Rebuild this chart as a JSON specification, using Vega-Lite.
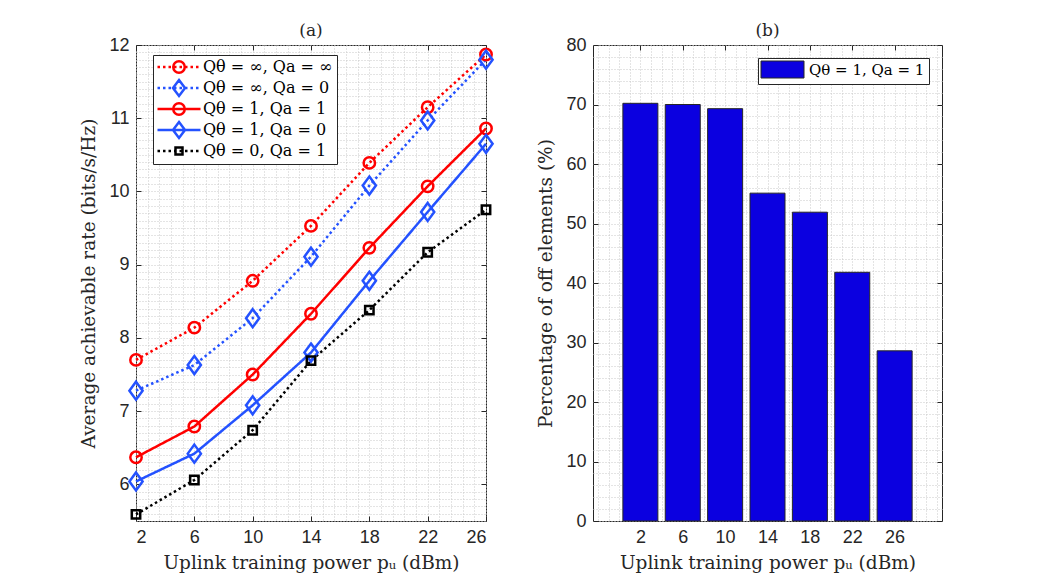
{
  "$schema": "https://vega.github.io/schema/vega-lite/v6.json",
  "padding": {"left": 79, "top": 21, "right": 5, "bottom": 5},
  "spacing": 37,
  "datasets": {
    "rates": [
      {"p": 2, "series": "Qθ = ∞, Qa = ∞", "rate": 7.70},
      {"p": 6, "series": "Qθ = ∞, Qa = ∞", "rate": 8.14},
      {"p": 10, "series": "Qθ = ∞, Qa = ∞", "rate": 8.78},
      {"p": 14, "series": "Qθ = ∞, Qa = ∞", "rate": 9.53},
      {"p": 18, "series": "Qθ = ∞, Qa = ∞", "rate": 10.39},
      {"p": 22, "series": "Qθ = ∞, Qa = ∞", "rate": 11.15},
      {"p": 26, "series": "Qθ = ∞, Qa = ∞", "rate": 11.87},
      {"p": 2, "series": "Qθ = ∞, Qa = 0", "rate": 7.28},
      {"p": 6, "series": "Qθ = ∞, Qa = 0", "rate": 7.63},
      {"p": 10, "series": "Qθ = ∞, Qa = 0", "rate": 8.27},
      {"p": 14, "series": "Qθ = ∞, Qa = 0", "rate": 9.11},
      {"p": 18, "series": "Qθ = ∞, Qa = 0", "rate": 10.08},
      {"p": 22, "series": "Qθ = ∞, Qa = 0", "rate": 10.97},
      {"p": 26, "series": "Qθ = ∞, Qa = 0", "rate": 11.80},
      {"p": 2, "series": "Qθ = 1, Qa = 1", "rate": 6.37},
      {"p": 6, "series": "Qθ = 1, Qa = 1", "rate": 6.79},
      {"p": 10, "series": "Qθ = 1, Qa = 1", "rate": 7.50},
      {"p": 14, "series": "Qθ = 1, Qa = 1", "rate": 8.33},
      {"p": 18, "series": "Qθ = 1, Qa = 1", "rate": 9.23},
      {"p": 22, "series": "Qθ = 1, Qa = 1", "rate": 10.07},
      {"p": 26, "series": "Qθ = 1, Qa = 1", "rate": 10.86},
      {"p": 2, "series": "Qθ = 1, Qa = 0", "rate": 6.04},
      {"p": 6, "series": "Qθ = 1, Qa = 0", "rate": 6.42},
      {"p": 10, "series": "Qθ = 1, Qa = 0", "rate": 7.08},
      {"p": 14, "series": "Qθ = 1, Qa = 0", "rate": 7.80},
      {"p": 18, "series": "Qθ = 1, Qa = 0", "rate": 8.78},
      {"p": 22, "series": "Qθ = 1, Qa = 0", "rate": 9.72},
      {"p": 26, "series": "Qθ = 1, Qa = 0", "rate": 10.65},
      {"p": 2, "series": "Qθ = 0, Qa = 1", "rate": 5.59},
      {"p": 6, "series": "Qθ = 0, Qa = 1", "rate": 6.06},
      {"p": 10, "series": "Qθ = 0, Qa = 1", "rate": 6.74},
      {"p": 14, "series": "Qθ = 0, Qa = 1", "rate": 7.69},
      {"p": 18, "series": "Qθ = 0, Qa = 1", "rate": 8.38},
      {"p": 22, "series": "Qθ = 0, Qa = 1", "rate": 9.17},
      {"p": 26, "series": "Qθ = 0, Qa = 1", "rate": 9.75}
    ],
    "bars": [
      {"p": 2, "pct": 70.2, "series": "Qθ = 1, Qa = 1"},
      {"p": 6, "pct": 70.0, "series": "Qθ = 1, Qa = 1"},
      {"p": 10, "pct": 69.3, "series": "Qθ = 1, Qa = 1"},
      {"p": 14, "pct": 55.1, "series": "Qθ = 1, Qa = 1"},
      {"p": 18, "pct": 51.9, "series": "Qθ = 1, Qa = 1"},
      {"p": 22, "pct": 41.8, "series": "Qθ = 1, Qa = 1"},
      {"p": 26, "pct": 28.6, "series": "Qθ = 1, Qa = 1"}
    ]
  },
  "config": {
    "view": {"stroke": "#262626", "strokeWidth": 1},
    "axis": {
      "labelFont": "Liberation Sans", "labelFontSize": 18, "labelColor": "#262626",
      "tickColor": "#262626", "tickWidth": 1,
      "titleFont": "DejaVu Serif", "titleFontSize": 18.5, "titleFontWeight": "normal", "titleColor": "#262626",
      "domain": false
    },
    "title": {"font": "DejaVu Serif", "fontSize": 17, "fontWeight": "normal", "color": "#262626", "offset": -4},
    "legend": {"labelFont": "DejaVu Serif", "labelFontSize": 16, "labelColor": "#000000"}
  },
  "hconcat": [
    {
      "title": "(a)",
      "width": 350,
      "height": 476,
      "data": {"name": "rates"},
      "layer": [
        {
          "mark": {"type": "point", "opacity": 0},
          "encoding": {
            "x": {"field": "p", "type": "quantitative", "scale": {"domain": [2, 26], "nice": false, "zero": false},
              "axis": {"orient": "bottom", "values": [2,2.8,3.6,4.4,5.2,6,6.8,7.6,8.4,9.2,10,10.8,11.6,12.4,13.2,14,14.8,15.6,16.4,17.2,18,18.8,19.6,20.4,21.2,22,22.8,23.6,24.4,25.2,26],
                "grid": true, "gridDash": [1, 2], "gridColor": "#c8c8c8", "ticks": false, "labels": false, "title": null}},
            "y": {"field": "rate", "type": "quantitative", "scale": {"domain": [5.5, 12], "nice": false, "zero": false},
              "axis": {"orient": "left", "values": [5.5,5.6,5.7,5.8,5.9,6,6.1,6.2,6.3,6.4,6.5,6.6,6.7,6.8,6.9,7,7.1,7.2,7.3,7.4,7.5,7.6,7.7,7.8,7.9,8,8.1,8.2,8.3,8.4,8.5,8.6,8.7,8.8,8.9,9,9.1,9.2,9.3,9.4,9.5,9.6,9.7,9.8,9.9,10,10.1,10.2,10.3,10.4,10.5,10.6,10.7,10.8,10.9,11,11.1,11.2,11.3,11.4,11.5,11.6,11.7,11.8,11.9,12],
                "grid": true, "gridDash": [1, 2], "gridColor": "#c8c8c8", "ticks": false, "labels": false, "title": null}}
          }
        },
        {
          "mark": {"type": "line", "strokeWidth": 2.5, "strokeCap": "butt"},
          "encoding": {
            "x": {"field": "p", "type": "quantitative",
              "axis": {"orient": "bottom", "values": [2, 6, 10, 14, 18, 22, 26], "grid": false, "tickSize": -5, "labelPadding": 12, "title": "Uplink training power pᵤ (dBm)", "titlePadding": 7}},
            "y": {"field": "rate", "type": "quantitative",
              "axis": {"orient": "left", "values": [6, 7, 8, 9, 10, 11, 12], "grid": false, "tickSize": -5, "labelPadding": 12, "title": "Average achievable rate (bits/s/Hz)", "titlePadding": 10}},
            "color": {"field": "series", "type": "nominal",
              "scale": {"domain": ["Qθ = ∞, Qa = ∞", "Qθ = ∞, Qa = 0", "Qθ = 1, Qa = 1", "Qθ = 1, Qa = 0", "Qθ = 0, Qa = 1"], "range": ["#ff0000", "#2452ff", "#ff0000", "#2452ff", "#000000"]},
              "legend": null},
            "strokeDash": {"field": "series", "type": "nominal",
              "scale": {"domain": ["Qθ = ∞, Qa = ∞", "Qθ = ∞, Qa = 0", "Qθ = 1, Qa = 1", "Qθ = 1, Qa = 0", "Qθ = 0, Qa = 1"], "range": [[2.5, 3], [2.5, 3], [1, 0], [1, 0], [2.5, 3]]},
              "legend": null}
          }
        },
        {
          "mark": {"type": "point", "filled": false, "opacity": 1, "size": 144},
          "encoding": {
            "x": {"field": "p", "type": "quantitative",
              "axis": {"orient": "top", "values": [2, 6, 10, 14, 18, 22, 26], "grid": false, "tickSize": -5, "labels": false, "title": null}},
            "y": {"field": "rate", "type": "quantitative",
              "axis": {"orient": "right", "values": [6, 7, 8, 9, 10, 11, 12], "grid": false, "tickSize": -5, "labels": false, "title": null}},
            "color": {"field": "series", "type": "nominal",
              "scale": {"domain": ["Qθ = ∞, Qa = ∞", "Qθ = ∞, Qa = 0", "Qθ = 1, Qa = 1", "Qθ = 1, Qa = 0", "Qθ = 0, Qa = 1"], "range": ["#ff0000", "#2452ff", "#ff0000", "#2452ff", "#000000"]},
              "legend": null},
            "shape": {"field": "series", "type": "nominal",
              "scale": {"domain": ["Qθ = ∞, Qa = ∞", "Qθ = ∞, Qa = 0", "Qθ = 1, Qa = 1", "Qθ = 1, Qa = 0", "Qθ = 0, Qa = 1"],
                "range": ["M-0.95,0A0.95,0.95,0,1,0,0.95,0A0.95,0.95,0,1,0,-0.95,0Z", "M0,-1.5L1.1,0L0,1.5L-1.1,0Z", "M-0.95,0A0.95,0.95,0,1,0,0.95,0A0.95,0.95,0,1,0,-0.95,0Z", "M0,-1.5L1.1,0L0,1.5L-1.1,0Z", "M-0.7,-0.7H0.7V0.7H-0.7Z"]},
              "legend": null},
            "strokeWidth": {"field": "series", "type": "ordinal",
              "scale": {"domain": ["Qθ = ∞, Qa = ∞", "Qθ = ∞, Qa = 0", "Qθ = 1, Qa = 1", "Qθ = 1, Qa = 0", "Qθ = 0, Qa = 1"], "range": [2.5, 2.5, 2.5, 2.5, 3.5]},
              "legend": null}
          }
        },
        {
          "transform": [{"filter": "datum.p < 0"}],
          "mark": {"type": "point", "filled": false, "opacity": 1, "strokeWidth": 2.5},
          "encoding": {
            "x": {"field": "p", "type": "quantitative", "axis": null},
            "y": {"field": "rate", "type": "quantitative", "axis": null},
            "color": {"field": "series", "type": "nominal",
              "scale": {"domain": ["Qθ = ∞, Qa = ∞", "Qθ = ∞, Qa = 0", "Qθ = 1, Qa = 1", "Qθ = 1, Qa = 0", "Qθ = 0, Qa = 1"], "range": ["#ff0000", "#2452ff", "#ff0000", "#2452ff", "#000000"]},
              "legend": {"title": null, "orient": "none", "legendX": 17, "legendY": 10, "fillColor": "white", "strokeColor": "#262626", "padding": 4, "symbolOffset": 14, "labelOffset": 16, "rowPadding": -3, "symbolSize": 100, "symbolStrokeWidth": 2.5, "labelFont": "DejaVu Serif", "labelFontSize": 16}},
            "shape": {"field": "series", "type": "nominal",
              "scale": {"domain": ["Qθ = ∞, Qa = ∞", "Qθ = ∞, Qa = 0", "Qθ = 1, Qa = 1", "Qθ = 1, Qa = 0", "Qθ = 0, Qa = 1"],
                "range": [
                  "M-4.3,0H-3.8M-3.2,0H-2.7M-2.1,0H-1.6M-1,0H-0.5M0.1,0H0.6M1.2,0H1.7M2.3,0H2.8M3.4,0H3.9M-1.15,0A1.15,1.15,0,1,0,1.15,0A1.15,1.15,0,1,0,-1.15,0Z",
                  "M-4.3,0H-3.8M-3.2,0H-2.7M-2.1,0H-1.6M-1,0H-0.5M0.1,0H0.6M1.2,0H1.7M2.3,0H2.8M3.4,0H3.9M0,-1.6L1.2,0L0,1.6L-1.2,0Z",
                  "M-4.3,0H4.3M-1.15,0A1.15,1.15,0,1,0,1.15,0A1.15,1.15,0,1,0,-1.15,0Z",
                  "M-4.3,0H4.3M0,-1.6L1.2,0L0,1.6L-1.2,0Z",
                  "M-4.3,0H-3.8M-3.2,0H-2.7M-2.1,0H-1.6M-1,0H-0.5M0.1,0H0.6M1.2,0H1.7M2.3,0H2.8M3.4,0H3.9M-0.7,-0.7H0.7V0.7H-0.7Z"
                ]},
              "legend": {"title": null, "orient": "none", "legendX": 17, "legendY": 10, "fillColor": "white", "strokeColor": "#262626", "padding": 4, "symbolOffset": 14, "labelOffset": 16, "rowPadding": -3, "symbolSize": 100, "symbolStrokeWidth": 2.5, "labelFont": "DejaVu Serif", "labelFontSize": 16}}
          }
        }
      ],
      "resolve": {
        "axis": {"x": "independent", "y": "independent"},
        "scale": {"color": "independent", "shape": "independent", "strokeDash": "independent", "strokeWidth": "independent"}
      }
    },
    {
      "title": "(b)",
      "width": 349,
      "height": 476,
      "data": {"name": "bars"},
      "layer": [
        {
          "mark": {"type": "point", "opacity": 0},
          "encoding": {
            "x": {"field": "p", "type": "quantitative", "scale": {"domain": [-2, 30], "nice": false, "zero": false},
              "axis": {"orient": "bottom", "values": [-2,-1,0,1,2,3,4,5,6,7,8,9,10,11,12,13,14,15,16,17,18,19,20,21,22,23,24,25,26,27,28,29,30],
                "grid": true, "gridDash": [1, 2], "gridColor": "#c8c8c8", "ticks": false, "labels": false, "title": null}},
            "y": {"field": "pct", "type": "quantitative", "scale": {"domain": [0, 80], "nice": false},
              "axis": {"orient": "left", "values": [0,2,4,6,8,10,12,14,16,18,20,22,24,26,28,30,32,34,36,38,40,42,44,46,48,50,52,54,56,58,60,62,64,66,68,70,72,74,76,78,80],
                "grid": true, "gridDash": [1, 2], "gridColor": "#c8c8c8", "ticks": false, "labels": false, "title": null}}
          }
        },
        {
          "mark": {"type": "bar", "orient": "vertical", "width": 35, "stroke": "#262626", "strokeWidth": 1},
          "encoding": {
            "x": {"field": "p", "type": "quantitative",
              "axis": {"orient": "bottom", "values": [2, 6, 10, 14, 18, 22, 26], "grid": false, "tickSize": -5, "labelPadding": 12, "title": "Uplink training power pᵤ (dBm)", "titlePadding": 7}},
            "y": {"field": "pct", "type": "quantitative",
              "axis": {"orient": "left", "values": [0, 10, 20, 30, 40, 50, 60, 70, 80], "grid": false, "tickSize": -5, "labelPadding": 12, "title": "Percentage of off elements (%)", "titlePadding": 10}},
            "fill": {"field": "series", "type": "nominal",
              "scale": {"domain": ["Qθ = 1, Qa = 1"], "range": ["#0b00e0"]},
              "legend": {"title": null, "orient": "none", "legendX": 622, "legendY": 13, "fillColor": "white", "strokeColor": "#262626", "padding": 4, "symbolType": "M-4.3,-1.7H4.3V1.7H-4.3Z", "symbolSize": 100, "symbolStrokeColor": "#262626", "symbolStrokeWidth": 1, "symbolOffset": 13, "labelOffset": 19, "labelFont": "DejaVu Serif", "labelFontSize": 15}}
          }
        },
        {
          "mark": {"type": "point", "opacity": 0},
          "encoding": {
            "x": {"field": "p", "type": "quantitative",
              "axis": {"orient": "top", "values": [2, 6, 10, 14, 18, 22, 26], "grid": false, "tickSize": -5, "labels": false, "title": null}},
            "y": {"field": "pct", "type": "quantitative",
              "axis": {"orient": "right", "values": [0, 10, 20, 30, 40, 50, 60, 70, 80], "grid": false, "tickSize": -5, "labels": false, "title": null}}
          }
        }
      ],
      "resolve": {"axis": {"x": "independent", "y": "independent"}}
    }
  ]
}
